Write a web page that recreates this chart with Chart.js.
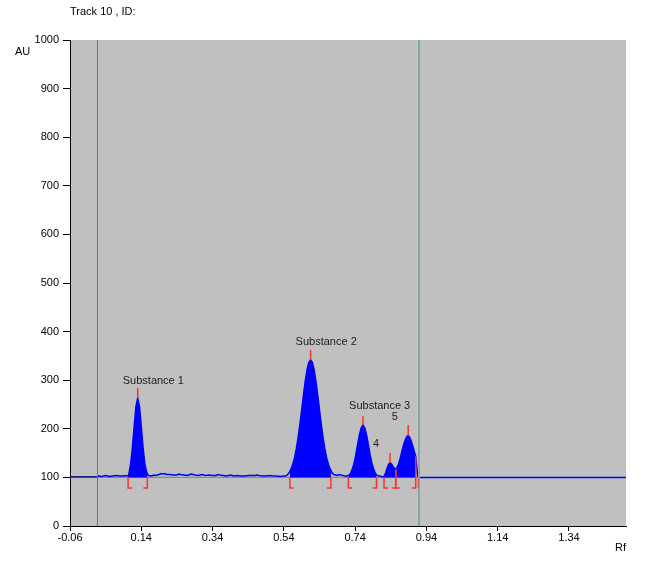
<!DOCTYPE html>
<html>
<head>
<meta charset="utf-8">
<script src="https://cdn.jsdelivr.net/npm/chart.js@4.4.0/dist/chart.umd.min.js"></script>
<style>
  body { margin: 0; background: #fff; }
  #wrap { width: 654px; height: 566px; }
</style>
</head>
<body>
<div id="wrap"><canvas id="chartTrack" width="654" height="566"></canvas></div>
<script>
// densitogram of track 10
var titleText = 'Track 10 , ID:';
var yUnit = 'AU';
var xUnit = 'Rf';

var xTickValues = [-0.06, 0.14, 0.34, 0.54, 0.74, 0.94, 1.14, 1.34];

// scan signal (Rf, AU)
var signalRf = [0.016, 0.02, 0.03, 0.04, 0.05, 0.06, 0.07, 0.08, 0.09, 0.095,
    0.100, 0.103, 0.105, 0.110, 0.115, 0.120, 0.125, 0.130, 0.135, 0.140, 0.145, 0.150, 0.155, 0.157, 0.160,
    0.17, 0.175, 0.18, 0.19, 0.195, 0.20, 0.205, 0.21, 0.22, 0.23, 0.24, 0.245, 0.25, 0.26, 0.27, 0.28, 0.29,
    0.30, 0.31, 0.32, 0.33, 0.34, 0.35, 0.355, 0.36, 0.37, 0.38, 0.39, 0.40, 0.41, 0.42, 0.43, 0.44, 0.45,
    0.46, 0.465, 0.47, 0.48, 0.49, 0.50, 0.51, 0.52, 0.53, 0.54,
    0.545, 0.550, 0.555, 0.557, 0.560, 0.565, 0.570, 0.575, 0.580, 0.585, 0.590, 0.595, 0.600, 0.605, 0.610,
    0.615, 0.620, 0.625, 0.630, 0.635, 0.640, 0.645, 0.650, 0.655, 0.660, 0.665, 0.670, 0.672, 0.675, 0.680,
    0.685, 0.69, 0.695, 0.70, 0.71, 0.717,
    0.721, 0.727, 0.732, 0.737, 0.742, 0.747, 0.752, 0.757, 0.762, 0.767, 0.772, 0.777, 0.782, 0.787, 0.792,
    0.797, 0.800, 0.802, 0.808, 0.814, 0.818,
    0.821, 0.826, 0.830, 0.834, 0.838, 0.842, 0.846, 0.850, 0.854, 0.858, 0.862, 0.866, 0.870, 0.874, 0.878,
    0.882, 0.886, 0.889, 0.893, 0.897, 0.901, 0.905, 0.910, 0.912, 0.914, 0.916, 0.919, 1.50];
var signalAU = [101, 103, 102, 104, 102, 103, 104, 103, 103, 104,
    103, 104, 106, 128, 161, 205, 246, 263, 246, 205, 161, 128, 111, 108, 104,
    103, 105, 104, 106, 108, 107, 108, 106, 106, 105, 105, 107, 106, 105, 104, 107, 105,
    104, 106, 104, 105, 104, 104, 106, 105, 104, 103, 105, 103, 104, 103, 103, 104, 104,
    104, 105, 104, 103, 103, 104, 103, 103, 102, 103,
    103, 105, 110, 113, 117, 127, 140, 159, 182, 209, 239, 270, 298, 321, 337,
    342, 337, 321, 298, 270, 239, 209, 182, 159, 140, 127, 117, 114, 110, 106,
    105, 104, 106, 105, 103, 103,
    104, 108, 117, 129, 147, 168, 188, 202, 208, 202, 188, 168, 147, 129, 117,
    108, 105, 104, 103, 102, 101,
    102, 110, 120, 127, 130, 128, 123, 119, 117, 121, 128, 138, 150, 162, 172,
    180, 185, 186, 183, 176, 166, 156, 143, 128, 112, 102, 100, 100];

// trace before the application position
var leadRf = [-0.06, 0.016];
var leadAU = [101, 101];

// baseline under the scan
var baseRf = [0.016, 0.919];
var baseAU = [100, 100];

// peaks
var peakRf = [0.130, 0.615, 0.762, 0.838, 0.889];
var peakMarkAU = [284, 362, 226, 150, 208];
var peakStartRf = [0.103, 0.557, 0.721, 0.821, 0.854];
var peakEndRf = [0.157, 0.672, 0.800, 0.854, 0.910];
var peakStartAU = [100, 100, 100, 100, 117];
var peakEndAU = [100, 100, 100, 117, 143];
var extraMarkRf = [0.917];

var labelText = ['Substance 1', 'Substance 2', 'Substance 3', '4', '5'];
var labelRf = [0.088, 0.573, 0.723, 0.790, 0.843];
var labelAU = [299, 379, 247, 168, 224];

// application position and front
var lineRf = [0.016, 0.919];

var font = { family: '"Liberation Sans", Arial, sans-serif', size: 11 };

function pts(xs, ys) {
    var out = [];
    for (var i = 0; i < xs.length; i++) {
        out.push({ x: xs[i], y: ys[i] });
    }
    return out;
}

var datasets = [{
    label: 'signal',
    data: pts(signalRf, signalAU),
    borderColor: '#0000ff',
    borderWidth: 1.5,
    pointRadius: 0,
    fill: false,
    order: 0
}, {
    label: 'lead',
    data: pts(leadRf, leadAU),
    borderColor: '#000080',
    borderWidth: 1.5,
    pointRadius: 0,
    fill: false,
    order: 0
}, {
    label: 'baseline',
    data: pts(baseRf, baseAU),
    borderColor: 'rgb(90,160,130)',
    borderWidth: 1.2,
    pointRadius: 0,
    fill: false,
    order: 5
}];

// filled area of each integrated peak
for (var p = 0; p < peakStartRf.length; p++) {
    var d = [];
    for (var i = 0; i < signalRf.length; i++) {
        if (signalRf[i] >= peakStartRf[p] - 0.0005 && signalRf[i] <= peakEndRf[p] + 0.0005) {
            d.push({ x: signalRf[i], y: signalAU[i] });
        }
    }
    datasets.push({
        label: 'peak' + (p + 1),
        data: d,
        borderWidth: 0,
        borderColor: 'rgba(0,0,0,0)',
        backgroundColor: '#0000ff',
        pointRadius: 0,
        fill: { value: 100 },
        order: 2
    });
}

var chromPlugin = {
    id: 'chrom',
    beforeDraw: function(chart) {
        var a = chart.chartArea, ctx = chart.ctx;
        ctx.save();
        ctx.fillStyle = '#c0c0c0';
        ctx.fillRect(a.left, a.top, a.right - a.left, a.bottom - a.top);
        ctx.restore();
    },
    afterDatasetsDraw: function(chart) {
        var ctx = chart.ctx, xs = chart.scales.x, ys = chart.scales.y, a = chart.chartArea;
        ctx.save();
        // vertical lines
        ctx.strokeStyle = '#4a8585';
        ctx.lineWidth = 1;
        ctx.beginPath();
        ctx.moveTo(Math.round(xs.getPixelForValue(lineRf[0])) + 0.5, a.top);
        ctx.lineTo(Math.round(xs.getPixelForValue(lineRf[0])) + 0.5, a.bottom);
        ctx.stroke();
        ctx.strokeStyle = '#80a8a8';
        ctx.lineWidth = 2;
        ctx.beginPath();
        ctx.moveTo(Math.round(xs.getPixelForValue(lineRf[1])), a.top);
        ctx.lineTo(Math.round(xs.getPixelForValue(lineRf[1])), a.bottom);
        ctx.stroke();

        // peak maxima
        ctx.strokeStyle = '#ff3030';
        ctx.lineWidth = 1.5;
        var bottom = ys.getPixelForValue(78);
        for (var i = 0; i < peakRf.length; i++) {
            var x = xs.getPixelForValue(peakRf[i]);
            ctx.beginPath();
            ctx.moveTo(x, ys.getPixelForValue(peakMarkAU[i]));
            ctx.lineTo(x, ys.getPixelForValue(signalAU[signalRf.indexOf(peakRf[i])]));
            ctx.stroke();
        }
        // integration brackets
        for (var i = 0; i < peakStartRf.length; i++) {
            var x0 = xs.getPixelForValue(peakStartRf[i]);
            var x1 = xs.getPixelForValue(peakEndRf[i]);
            ctx.beginPath();
            ctx.moveTo(x0 + 4, bottom);
            ctx.lineTo(x0, bottom);
            ctx.lineTo(x0, ys.getPixelForValue(peakStartAU[i]));
            ctx.moveTo(x1 - 4, bottom);
            ctx.lineTo(x1, bottom);
            ctx.lineTo(x1, ys.getPixelForValue(peakEndAU[i]));
            ctx.stroke();
        }
        ctx.strokeStyle = 'rgba(255,48,48,0.6)';
        for (var i = 0; i < extraMarkRf.length; i++) {
            var xe = xs.getPixelForValue(extraMarkRf[i]);
            ctx.beginPath();
            ctx.moveTo(xe, ys.getPixelForValue(100));
            ctx.lineTo(xe, bottom);
            ctx.stroke();
        }

        // peak names
        ctx.fillStyle = '#202020';
        ctx.font = font.size + 'px ' + font.family;
        ctx.textAlign = 'left';
        ctx.textBaseline = 'middle';
        for (var i = 0; i < labelText.length; i++) {
            ctx.fillText(labelText[i], xs.getPixelForValue(labelRf[i]), ys.getPixelForValue(labelAU[i]));
        }
        ctx.restore();
    },
    afterDraw: function(chart) {
        var ctx = chart.ctx, a = chart.chartArea;
        ctx.save();
        ctx.fillStyle = '#000';
        ctx.font = font.size + 'px ' + font.family;
        ctx.textBaseline = 'middle';
        ctx.textAlign = 'left';
        ctx.fillText(titleText, a.left, 12);
        ctx.fillText(yUnit, 15, 52);
        ctx.textAlign = 'right';
        ctx.fillText(xUnit, a.right, 548);
        ctx.restore();
    }
};

var chartTrack = new Chart(document.getElementById('chartTrack'), {
    type: 'line',
    data: { datasets: datasets },
    plugins: [chromPlugin],
    options: {
        responsive: false,
        animation: false,
        layout: { padding: { top: 40, right: 28, bottom: 0, left: 0 } },
        plugins: {
            legend: { display: false },
            tooltip: { enabled: false }
        },
        elements: { line: { tension: 0 } },
        scales: {
            x: {
                type: 'linear',
                min: -0.06,
                max: 1.50,
                afterBuildTicks: function(axis) {
                    axis.ticks = xTickValues.map(function(v) { return { value: v }; });
                },
                afterFit: function(axis) { axis.height = 40; },
                grid: { drawOnChartArea: false, drawTicks: true, tickLength: 5, color: '#000' },
                border: { display: true, color: '#000', width: 1 },
                ticks: {
                    autoSkip: false,
                    maxRotation: 0,
                    padding: 0,
                    color: '#000',
                    font: font,
                    callback: function(v) { return v.toFixed(2); }
                }
            },
            y: {
                min: 0,
                max: 1000,
                afterFit: function(axis) { axis.width = 70; },
                grid: { drawOnChartArea: false, drawTicks: true, tickLength: 7, color: '#000' },
                border: { display: true, color: '#000', width: 1 },
                ticks: {
                    stepSize: 100,
                    padding: 4,
                    color: '#000',
                    font: font,
                    callback: function(v) { return String(v); }
                }
            }
        }
    }
});
</script>
</body>
</html>
